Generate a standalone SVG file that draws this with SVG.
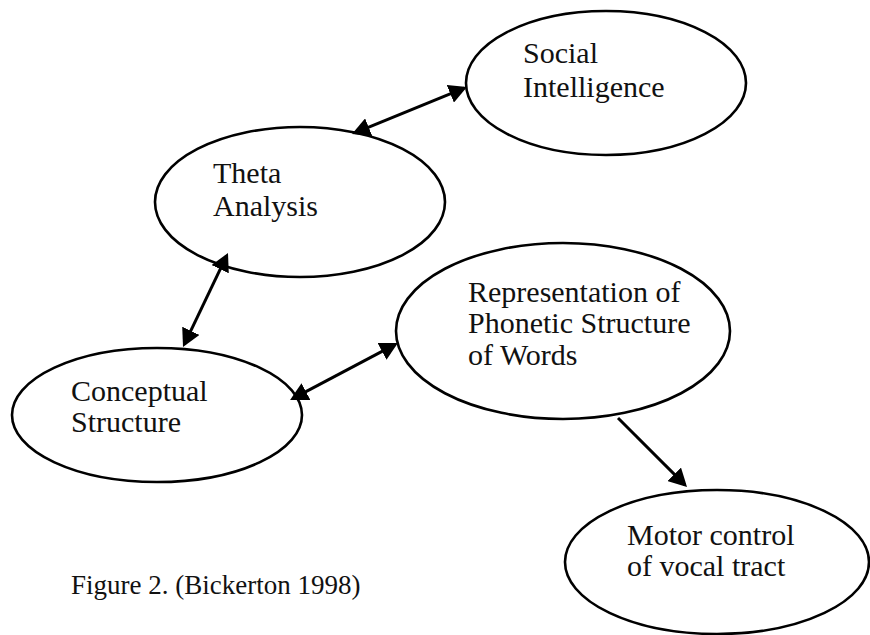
<svg xmlns="http://www.w3.org/2000/svg" width="870" height="635" viewBox="0 0 870 635">
<style>
.node ellipse{fill:none;stroke:#000;stroke-width:2.6}
text{font-family:"Liberation Serif","Times New Roman",serif;font-size:30px;fill:#111}
.caption text{font-size:27px}
.conn line{stroke:#000;stroke-width:3}
</style>
<defs>
<marker id="ah" markerUnits="userSpaceOnUse" markerWidth="18" markerHeight="19" viewBox="0 0 18 19" refX="15" refY="9.5" orient="auto-start-reverse">
<path d="M0,0 L18,9.5 L0,19 Z" fill="#000"/>
</marker>
</defs>
<rect width="870" height="635" fill="#fff"/>
<g id="social" class="node">
<ellipse cx="606" cy="83" rx="140" ry="72"/>
<text x="523" y="63">Social</text>
<text x="523" y="97">Intelligence</text>
</g>
<g id="theta" class="node">
<ellipse cx="300" cy="202" rx="145" ry="75"/>
<text x="213" y="183">Theta</text>
<text x="213" y="216">Analysis</text>
</g>
<g id="representation" class="node">
<ellipse cx="563" cy="331" rx="167" ry="88"/>
<text x="468" y="302">Representation of</text>
<text x="468" y="333">Phonetic Structure</text>
<text x="468" y="365">of Words</text>
</g>
<g id="conceptual" class="node">
<ellipse cx="157" cy="415" rx="145" ry="67"/>
<text x="71" y="401">Conceptual</text>
<text x="71" y="432">Structure</text>
</g>
<g id="motor" class="node">
<ellipse cx="717" cy="562" rx="152" ry="72"/>
<text x="627" y="545">Motor control</text>
<text x="627" y="576">of vocal tract</text>
</g>
<g id="caption" class="caption">
<text x="71" y="594">Figure 2. (Bickerton 1998)</text>
</g>
<g id="connectors" class="conn">
<line x1="354.8" y1="132.9" x2="464.2" y2="88.1" marker-start="url(#ah)" marker-end="url(#ah)"/>
<line x1="226.7" y1="255.7" x2="184.3" y2="344.3" marker-start="url(#ah)" marker-end="url(#ah)"/>
<line x1="292.7" y1="398.6" x2="395.3" y2="344.4" marker-start="url(#ah)" marker-end="url(#ah)"/>
<line x1="618" y1="418" x2="684.9" y2="484.9" marker-end="url(#ah)"/>
</g>
</svg>
